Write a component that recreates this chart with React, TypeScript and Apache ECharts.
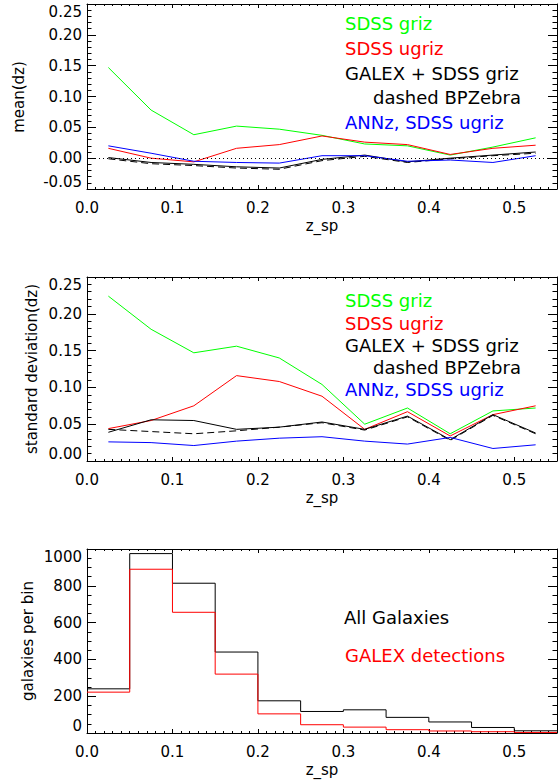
import React, { useEffect, useRef } from "react";
import * as echarts from "echarts";

const FONT = "DejaVu Sans";

// redshift bin centres for the mean / std panels
const zCenters = [0.025, 0.075, 0.125, 0.175, 0.225, 0.275, 0.325, 0.375, 0.425, 0.475, 0.525];

// panel 1: mean(dz)
const meanGriz = [0.147, 0.078, 0.038, 0.052, 0.047, 0.037, 0.023, 0.020, 0.005, 0.018, 0.033];
const meanUgriz = [0.016, 0.000, -0.006, 0.016, 0.022, 0.036, 0.026, 0.022, 0.006, 0.016, 0.021];
const meanGalex = [0.001, -0.007, -0.010, -0.014, -0.016, -0.002, 0.005, -0.006, 0.000, 0.005, 0.010];
const meanBpz = [-0.001, -0.009, -0.012, -0.016, -0.018, -0.004, 0.003, -0.007, -0.001, 0.004, 0.008];
const meanAnnz = [0.020, 0.008, -0.005, -0.007, -0.008, 0.004, 0.004, -0.005, -0.003, -0.007, 0.004];

// panel 2: standard deviation(dz)
const sdGriz = [0.224, 0.179, 0.147, 0.156, 0.140, 0.104, 0.050, 0.072, 0.037, 0.068, 0.072];
const sdUgriz = [0.044, 0.055, 0.075, 0.116, 0.108, 0.088, 0.043, 0.067, 0.034, 0.063, 0.075];
const sdGalex = [0.039, 0.056, 0.055, 0.043, 0.046, 0.053, 0.043, 0.061, 0.029, 0.063, 0.038];
const sdBpz = [0.043, 0.040, 0.037, 0.041, 0.046, 0.052, 0.042, 0.060, 0.028, 0.062, 0.037];
const sdAnnz = [0.026, 0.025, 0.021, 0.027, 0.031, 0.033, 0.027, 0.023, 0.032, 0.017, 0.022];

// panel 3: histogram
const histBinStarts = [0.0, 0.05, 0.1, 0.15, 0.2, 0.25, 0.3, 0.35, 0.4, 0.45, 0.5];
const histBinWidth = 0.05;
const histAll = [240, 975, 814, 440, 175, 117, 126, 85, 60, 30, 12];
const histGalex = [222, 890, 656, 320, 104, 45, 32, 18, 11, 7, 3];

const legendTop = ["SDSS griz", "SDSS ugriz", "GALEX + SDSS griz", "dashed BPZebra", "ANNz, SDSS ugriz"];
const legendBottom = ["All Galaxies", "GALEX detections"];
const yTitles = ["mean(dz)", "standard deviation(dz)", "galaxies per bin"];
const xTitle = "z_sp";

const GREEN = "#00ff00";
const RED = "#ff0000";
const BLUE = "#0000ff";
const BLACK = "#000000";

const axisLineStyle = { color: BLACK, width: 1 };
const textBase = { color: BLACK, fontFamily: FONT, fontSize: 15 };

function xAxes(g: number) {
  const base = { type: "value", gridIndex: g, min: 0, max: 0.55, splitLine: { show: false } };
  return [
    {
      ...base,
      position: "bottom",
      interval: 0.1,
      axisLine: { show: true, onZero: false, lineStyle: axisLineStyle },
      axisTick: { show: true, inside: true, length: 4, lineStyle: axisLineStyle },
      axisLabel: {
        show: true,
        margin: 11,
        ...textBase,
        showMaxLabel: false,
        formatter: (v: number) => v.toFixed(1),
      },
      name: xTitle,
      nameLocation: "middle",
      nameGap: 29,
      nameTextStyle: { ...textBase },
    },
    {
      ...base,
      position: "bottom",
      interval: 0.01,
      axisLine: { show: false, onZero: false },
      axisTick: { show: true, inside: true, length: 2, lineStyle: axisLineStyle },
      axisLabel: { show: false },
    },
    {
      ...base,
      position: "top",
      interval: 0.1,
      axisLine: { show: true, onZero: false, lineStyle: axisLineStyle },
      axisTick: { show: true, inside: true, length: 4, lineStyle: axisLineStyle },
      axisLabel: { show: false },
    },
    {
      ...base,
      position: "top",
      interval: 0.01,
      axisLine: { show: false, onZero: false },
      axisTick: { show: true, inside: true, length: 2, lineStyle: axisLineStyle },
      axisLabel: { show: false },
    },
  ];
}

function yAxes(
  g: number,
  min: number,
  max: number,
  interval: number,
  minorSplit: number,
  fmt: (v: number) => string
) {
  const base = { type: "value", gridIndex: g, min, max, interval, splitLine: { show: false } };
  const ticks = {
    axisLine: { show: true, onZero: false, lineStyle: axisLineStyle },
    axisTick: { show: true, inside: true, length: 9, lineStyle: axisLineStyle },
    minorTick: { show: true, splitNumber: minorSplit, length: 4.5, lineStyle: axisLineStyle },
  };
  return [
    {
      ...base,
      ...ticks,
      position: "left",
      axisLabel: {
        show: true,
        margin: 5,
        ...textBase,
        formatter: fmt,
        verticalAlignMinLabel: "bottom",
        verticalAlignMaxLabel: "top",
      },
    },
    {
      ...base,
      ...ticks,
      position: "right",
      axisLabel: { show: false },
    },
  ];
}

function pts(values: number[]) {
  return zCenters.map((z, i) => [z, values[i]]);
}

function histPts(values: number[]) {
  const d = histBinStarts.map((x, i) => [x, values[i]]);
  d.push([histBinStarts[histBinStarts.length - 1] + histBinWidth, values[values.length - 1]]);
  return d;
}

function lineSeries(
  name: string,
  data: number[][],
  color: string,
  xi: number,
  yi: number,
  dashed = false,
  extra: any = {}
) {
  return {
    name,
    type: "line",
    xAxisIndex: xi,
    yAxisIndex: yi,
    data,
    showSymbol: false,
    symbol: "none",
    silent: true,
    lineStyle: { color, width: 1, type: dashed ? [7, 4] : "solid" },
    ...extra,
  };
}

function legendTexts(ys: number[], colors: string[], texts: string[], xs: number[]) {
  return texts.map((t, i) => ({
    type: "text",
    x: xs[i],
    y: ys[i],
    style: {
      text: t,
      fill: colors[i],
      fontFamily: FONT,
      fontSize: 18,
      verticalAlign: "middle",
      align: "left",
    },
  }));
}

function yTitleTexts(xs: number[], ys: number[]) {
  return yTitles.map((t, i) => ({
    type: "text",
    x: xs[i],
    y: ys[i],
    rotation: Math.PI / 2,
    style: {
      text: t,
      fill: BLACK,
      fontFamily: FONT,
      fontSize: 15,
      align: "center",
      verticalAlign: "middle",
    },
  }));
}

const f2 = (v: number) => v.toFixed(2);
const f0 = (v: number) => String(Math.round(v));

const option: any = {
  animation: false,
  backgroundColor: "#ffffff",
  grid: [
    { left: 87, top: 4, width: 470, height: 185 },
    { left: 87, top: 277, width: 470, height: 184 },
    { left: 87, top: 549, width: 470, height: 184 },
  ],
  xAxis: [...xAxes(0), ...xAxes(1), ...xAxes(2)],
  yAxis: [
    ...yAxes(0, -0.05, 0.25, 0.05, 5, f2),
    ...yAxes(1, 0, 0.25, 0.05, 5, f2),
    ...yAxes(2, 0, 1000, 200, 4, f0),
  ],
  series: [
    lineSeries("SDSS griz", pts(meanGriz), GREEN, 0, 0),
    lineSeries("SDSS ugriz", pts(meanUgriz), RED, 0, 0),
    lineSeries("GALEX + SDSS griz", pts(meanGalex), BLACK, 0, 0, false, {
      markLine: {
        silent: true,
        symbol: ["none", "none"],
        label: { show: false },
        lineStyle: { color: BLACK, width: 1, type: [1, 3] },
        data: [{ yAxis: 0 }],
      },
    }),
    lineSeries("BPZebra", pts(meanBpz), BLACK, 0, 0, true),
    lineSeries("ANNz, SDSS ugriz", pts(meanAnnz), BLUE, 0, 0),

    lineSeries("SDSS griz", pts(sdGriz), GREEN, 4, 2),
    lineSeries("SDSS ugriz", pts(sdUgriz), RED, 4, 2),
    lineSeries("GALEX + SDSS griz", pts(sdGalex), BLACK, 4, 2),
    lineSeries("BPZebra", pts(sdBpz), BLACK, 4, 2, true),
    lineSeries("ANNz, SDSS ugriz", pts(sdAnnz), BLUE, 4, 2),

    lineSeries("All Galaxies", histPts(histAll), BLACK, 8, 4, false, { step: "end" }),
    lineSeries("GALEX detections", histPts(histGalex), RED, 8, 4, false, { step: "end" }),
  ],
  graphic: [
    ...legendTexts(
      [23, 48, 73, 97.5, 122],
      [GREEN, RED, BLACK, BLACK, BLUE],
      legendTop,
      [345, 345, 345, 373, 345]
    ),
    ...legendTexts(
      [300.5, 323, 345.5, 367.5, 389.5],
      [GREEN, RED, BLACK, BLACK, BLUE],
      legendTop,
      [345, 345, 345, 373, 345]
    ),
    ...legendTexts([617, 655], [BLACK, RED], legendBottom, [344, 345]),
    ...yTitleTexts([19, 32, 27.5], [97, 369, 641]),
  ],
};

export default function App() {
  const ref = useRef<HTMLDivElement>(null);
  useEffect(() => {
    document.body.style.margin = "0";
    const chart = echarts.init(ref.current as HTMLDivElement, null, { renderer: "svg" });
    chart.setOption(option);
    return () => chart.dispose();
  }, []);
  return <div ref={ref} style={{ width: 559, height: 782, background: "#ffffff" }} />;
}
